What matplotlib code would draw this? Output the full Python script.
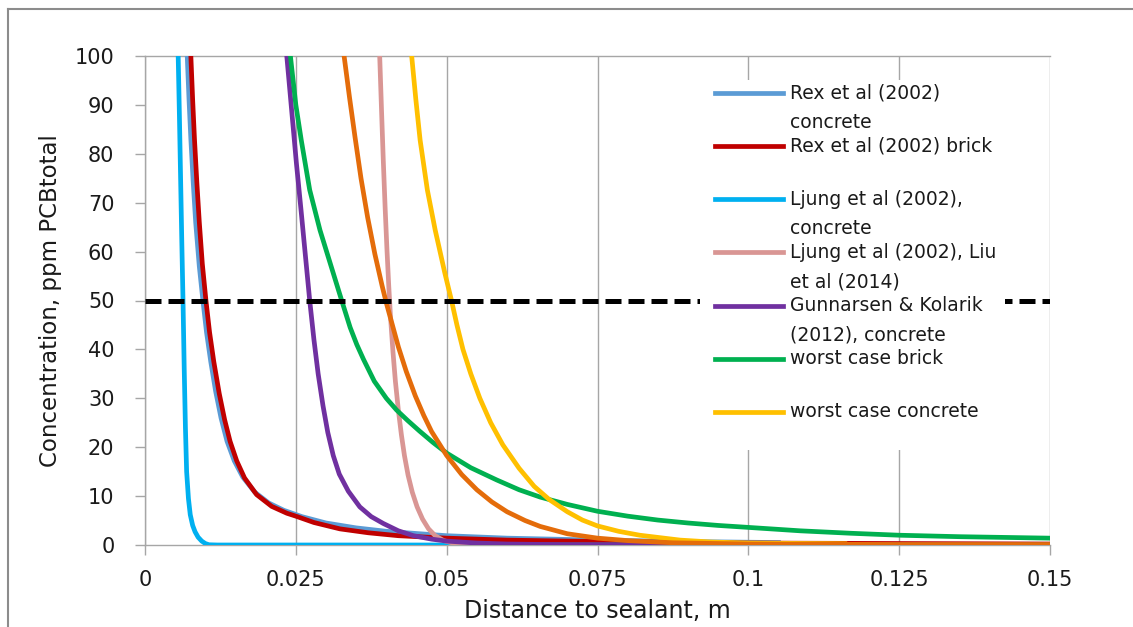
import matplotlib
matplotlib.use("Agg")
import matplotlib.pyplot as plt
from matplotlib.lines import Line2D
from matplotlib.patches import Rectangle

plt.rcParams['font.family'] = ['DejaVu Sans']

# --- data ---
rex_concrete_x = [0.0070, 0.0073, 0.0076, 0.0080, 0.0084, 0.0090, 0.0096, 0.0102, 0.0109, 0.0117,
                  0.0126, 0.0136, 0.0148, 0.0162, 0.0182, 0.0205, 0.0230, 0.0260, 0.0300, 0.0350,
                  0.0400, 0.0500, 0.0600, 0.0750, 0.0900, 0.1050]
rex_concrete_y = [100, 91, 83, 74, 66, 57, 50, 43.5, 37.5, 31.5, 26, 21.2, 17.2, 13.9, 10.8, 8.6,
                  7.1, 5.8, 4.5, 3.5, 2.8, 1.9, 1.4, 1.0, 0.7, 0.5]

rex_brick_x = [0.0076, 0.0079, 0.0082, 0.0086, 0.0090, 0.0095, 0.0101, 0.0107, 0.0114, 0.0123,
               0.0132, 0.0141, 0.0152, 0.0165, 0.0185, 0.0210, 0.0235, 0.0250, 0.0280, 0.0323,
               0.0370, 0.0420, 0.0500, 0.0600, 0.0750, 0.1000, 0.1250, 0.1500]
rex_brick_y = [100, 91, 83, 74, 66, 57.5, 50, 43.5, 37.5, 31, 25.6, 21.2, 17.2, 13.7, 10.3, 7.9,
               6.5, 5.9, 4.6, 3.3, 2.5, 1.9, 1.4, 1.0, 0.7, 0.4, 0.3, 0.2]

ljung_concrete_x = [0.0055, 0.0057, 0.0059, 0.0061, 0.0063, 0.0065, 0.0067, 0.0069, 0.0072, 0.0075,
                    0.0079, 0.0083, 0.0088, 0.0094, 0.0100, 0.0106, 0.0120, 0.1500]
ljung_concrete_y = [100, 88, 75, 62, 50, 36, 24, 15, 9.5, 6.2, 4.0, 2.7, 1.6, 0.8, 0.3, 0.05, 0, 0]

ljung_liu_x = [0.0389, 0.0392, 0.0395, 0.0398, 0.0401, 0.0404, 0.0407, 0.0411, 0.0415, 0.0420,
               0.0425, 0.0430, 0.0436, 0.0443, 0.0451, 0.0460, 0.0470, 0.0481, 0.0495, 0.0510,
               0.0550, 0.0600]
ljung_liu_y = [100, 89, 78.5, 69, 60.5, 53, 46.5, 39.5, 33.5, 27.5, 22.5, 18.3, 14.3, 10.8, 7.8,
               5.3, 3.3, 1.9, 0.9, 0.4, 0.05, 0]

gunnarsen_x = [0.0235, 0.0243, 0.0251, 0.0259, 0.0266, 0.0273, 0.0280, 0.0287, 0.0295, 0.0303,
               0.0312, 0.0322, 0.0337, 0.0356, 0.0375, 0.0395, 0.0420, 0.0445, 0.0475, 0.0500,
               0.0550, 0.0600, 0.0700, 0.0890]
gunnarsen_y = [100, 89, 78, 68, 59, 50, 42, 35, 28.5, 23, 18.3, 14.5, 11, 7.8, 5.8, 4.4, 2.9, 1.9,
               1.2, 0.8, 0.4, 0.2, 0.05, 0]

worst_brick_x = [0.0241, 0.0250, 0.0259, 0.0273, 0.0290, 0.0312, 0.0326, 0.0340, 0.0351, 0.0362,
                 0.0380, 0.0400, 0.0417, 0.0435, 0.0455, 0.0477, 0.0500, 0.0540, 0.0583, 0.0620,
                 0.0655, 0.0700, 0.0750, 0.0800, 0.0850, 0.0900, 0.0950, 0.1000, 0.1086, 0.1170,
                 0.1250, 0.1350, 0.1450, 0.1500]
worst_brick_y = [100, 90, 82.8, 72.6, 64.4, 55.6, 50, 44.5, 41, 38, 33.5, 30, 27.6, 25.5, 23.3, 21,
                 18.8, 15.8, 13.3, 11.3, 9.8, 8.3, 6.9, 5.9, 5.1, 4.5, 4.0, 3.6, 2.9, 2.4, 2.0, 1.7,
                 1.5, 1.4]

worst_concrete_x = [0.0442, 0.0449, 0.0456, 0.0468, 0.0481, 0.0497, 0.0508, 0.0517, 0.0527, 0.0540,
                    0.0555, 0.0573, 0.0593, 0.0620, 0.0645, 0.0670, 0.0700, 0.0725, 0.0750, 0.0785,
                    0.0820, 0.0887, 0.0940, 0.1000, 0.1160]
worst_concrete_y = [100, 91, 82.8, 72.6, 64.4, 55.6, 50, 45, 40, 35, 30, 25, 20.5, 15.7, 12, 9.3,
                    6.8, 5.1, 3.9, 2.8, 2.0, 1.0, 0.6, 0.4, 0.25]

other_x = [0.0330, 0.0339, 0.0348, 0.0358, 0.0369, 0.0381, 0.0393, 0.0400, 0.0410, 0.0420, 0.0433,
           0.0448, 0.0462, 0.0475, 0.0500, 0.0525, 0.0550, 0.0575, 0.0600, 0.0630, 0.0655, 0.0700,
           0.0750, 0.0800, 0.0875, 0.1000, 0.1250, 0.1500]
other_y = [100, 91.5, 83.5, 75, 67, 59.5, 53, 49.5, 45, 40.5, 35.5, 30.5, 26.5, 23.2, 18.3, 14.4,
           11.3, 8.8, 6.8, 5.0, 3.8, 2.3, 1.4, 0.9, 0.45, 0.2, 0.1, 0.1]

limit_x = [0, 0.15]
limit_y = [50, 50]

series = [
    ("Rex et al (2002)\nconcrete", rex_concrete_x, rex_concrete_y, '#5B9BD5'),
    ("Rex et al (2002) brick", rex_brick_x, rex_brick_y, '#C00000'),
    ("Ljung et al (2002),\nconcrete", ljung_concrete_x, ljung_concrete_y, '#00B0F0'),
    ("Ljung et al (2002), Liu\net al (2014)", ljung_liu_x, ljung_liu_y, '#D99694'),
    ("Gunnarsen & Kolarik\n(2012), concrete", gunnarsen_x, gunnarsen_y, '#7030A0'),
    ("worst case brick", worst_brick_x, worst_brick_y, '#00B050'),
    ("worst case concrete", worst_concrete_x, worst_concrete_y, '#FFC000'),
]

W, H = 1133, 627
fig = plt.figure(figsize=(W / 100, H / 100), dpi=100)
ax = fig.add_axes([145 / W, 1 - 545 / H, 905 / W, 489 / H])

def fx(px):
    return px / W

def fy(py):
    return 1 - py / H

for label, x, y, c in series:
    ax.plot(x, y, color=c, lw=3.4, solid_joinstyle='round', zorder=3)
ax.plot(other_x, other_y, color='#E46C0A', lw=3.4, solid_joinstyle='round', zorder=3)
ax.plot(limit_x, limit_y, color='black', lw=3.6, dashes=(3.2, 1.4), dash_capstyle='butt', zorder=3)

ax.set_xlim(0, 0.15)
ax.set_ylim(0, 100)
ax.set_xticks([0, 0.025, 0.05, 0.075, 0.1, 0.125, 0.15])
ax.set_xticklabels(['0', '0.025', '0.05', '0.075', '0.1', '0.125', '0.15'])
ax.set_yticks(range(0, 101, 10))
ax.grid(axis='x', color='#A6A6A6', lw=1.0)
ax.set_axisbelow(True)
for s in ['left', 'bottom', 'top']:
    ax.spines[s].set_color('#A6A6A6')
    ax.spines[s].set_linewidth(1.0)
ax.spines['right'].set_visible(False)
ax.tick_params(colors='#A6A6A6', labelcolor='#1a1a1a', labelsize=15, length=7, width=1.0)
ax.tick_params(axis='y', pad=15)
ax.tick_params(axis='x', pad=11)

ax.set_ylabel('Concentration, ppm PCBtotal', fontsize=16.5, color='#1a1a1a')
ax.set_xlabel('Distance to sealant, m', fontsize=17, color='#1a1a1a')
ax.yaxis.set_label_coords((62 - 145) / 905, 0.5)
ax.xaxis.set_label_coords(0.5, (545 - 599) / 489)

# legend, drawn the way the spreadsheet lays it out
ax.add_patch(Rectangle((fx(700), fy(450)), fx(1005) - fx(700), fy(80) - fy(450),
                       transform=fig.transFigure, facecolor='white', edgecolor='none', zorder=5))
for i, (label, x, y, c) in enumerate(series):
    yy = 92.7 + i * 53.2
    fig.add_artist(Line2D([fx(715), fx(783)], [fy(yy), fy(yy)], color=c, lw=3.4, zorder=6))
    for k, part in enumerate(label.split('\n')):
        fig.text(fx(790), fy(yy + k * 29.5), part, fontsize=13.5, color='#1a1a1a',
                 va='center', ha='left', zorder=7)

# outer chart border
fig.add_artist(Line2D([fx(8), fx(8)], [0, fy(9)], color='#8C8C8C', lw=1.5))
fig.add_artist(Line2D([fx(8), 1], [fy(9), fy(9)], color='#8C8C8C', lw=1.5))

fig.savefig('out.png', dpi=100)
